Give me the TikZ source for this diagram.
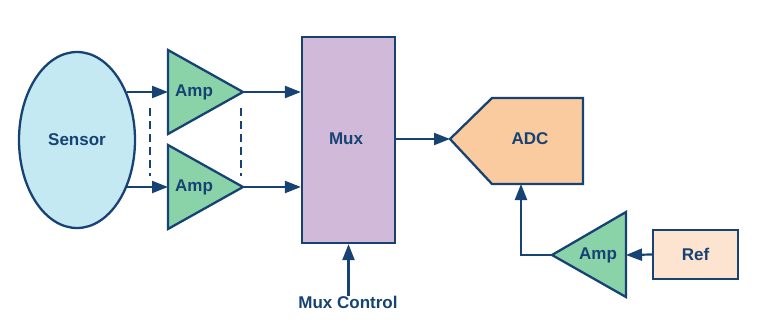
\documentclass[tikz,border=0pt]{standalone}
\usepackage{fontspec}
\setmainfont{Liberation Sans}
\usetikzlibrary{arrows.meta,shapes.geometric}
\definecolor{ln}{RGB}{22,66,116}
\definecolor{sensorc}{RGB}{196,233,242}
\definecolor{ampc}{RGB}{138,211,168}
\definecolor{muxc}{RGB}{209,186,217}
\definecolor{adcc}{RGB}{249,203,158}
\definecolor{refc}{RGB}{252,228,208}
\tikzset{
  lbl/.style={font=\fontsize{17}{20}\selectfont\bfseries, text=ln, inner sep=0pt},
  body/.style={draw=ln, line width=2.3pt, line join=miter},
  conn/.style={draw=ln, line width=2.2pt, -{Triangle[length=16pt,width=12pt]}},
  dashline/.style={draw=ln, line width=2.2pt, dash pattern=on 8pt off 5pt},
}
\begin{document}
\begin{tikzpicture}[x=1pt,y=-1pt]
\useasboundingbox (0,0) rectangle (758,330);
% Sensor
\node[ellipse, body, fill=sensorc, minimum width=116pt, minimum height=176pt, inner sep=0pt] (sensor) at (77,140) {};
\node[lbl] (sensortxt) at (77,140) {Sensor};
% Amp 1
\path[body, fill=ampc] (168,50) -- (243,92) -- (168,134) -- cycle;
\coordinate (a1w) at (168,92);
\coordinate (a1e) at (243,92);
\node[lbl] (a1) at (194,92) {Amp};
% Amp 2
\path[body, fill=ampc] (168,145) -- (243,187) -- (168,229) -- cycle;
\coordinate (a2w) at (168,187);
\coordinate (a2e) at (243,187);
\node[lbl] (a2) at (194,187) {Amp};
% Mux
\node[rectangle, body, fill=muxc, minimum width=93pt, minimum height=206pt, inner sep=0pt] (mux) at (348.5,140) {};
\node[lbl] (muxtxt) at (346,139) {Mux};
% ADC
\path[body, fill=adcc] (450,139) -- (492,98) -- (583,98) -- (583,184) -- (492,184) -- cycle;
\coordinate (adcw) at (450,139);
\coordinate (adcb) at (521,184);
\node[lbl] (adc) at (530,139) {ADC};
% Amp 3
\path[body, fill=ampc] (626,212) -- (552,255) -- (626,297) -- cycle;
\coordinate (a3w) at (552,255);
\coordinate (a3e) at (626,255);
\node[lbl] (a3) at (598,255) {Amp};
% Ref
\node[rectangle, body, fill=refc, minimum width=85pt, minimum height=49pt, inner sep=0pt] (ref) at (695.5,254.5) {};
\node[lbl] (reftxt) at (695.5,254.5) {Ref};
% Mux control
\node[lbl] (muxctl) at (348,302) {Mux Control};
% connectors
\draw[conn] (a1w -| sensor.44.5) -- (a1w);
\draw[conn] (a2w -| sensor.-44.5) -- (a2w);
\draw[conn] (a1e) -- (a1e -| mux.west);
\draw[conn] (a2e) -- (a2e -| mux.west);
\draw[conn] (mux.east |- adcw) -- (adcw);
\draw[conn] (muxctl.north -| mux.south) -- (mux.south);
\draw[conn] (ref.west) -- (a3e);
\draw[conn] (a3w) -| (adcb);
% dashed
\coordinate (d1t) at (150,108);
\coordinate (d1b) at (150,176);
\coordinate (d2t) at (241,108);
\coordinate (d2b) at (241,176);
\draw[dashline] (d1t) -- (d1b);
\draw[dashline] (d2t) -- (d2b);
\end{tikzpicture}
\end{document}
